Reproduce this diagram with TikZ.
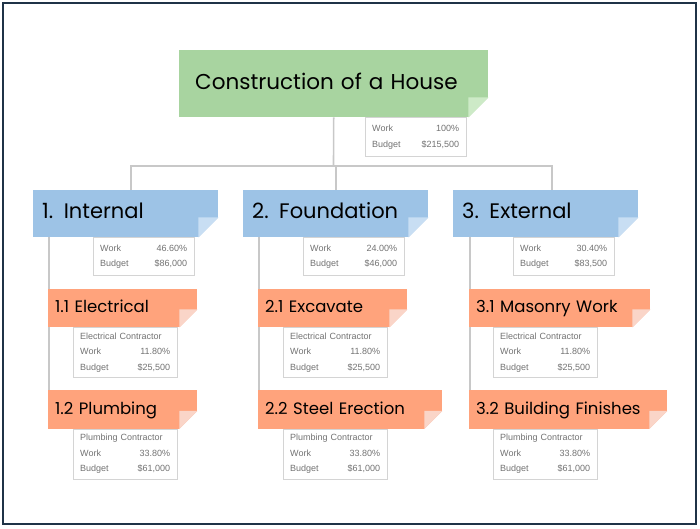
\documentclass[tikz,border=0pt]{standalone}
\usepackage{fontspec}
\usepackage{tikz}
\usetikzlibrary{backgrounds}
\usetikzlibrary{shadows}
\newfontfamily\titlefont{Poppins}
\newfontfamily\infofont{Liberation Sans}
\definecolor{rootgreen}{HTML}{A8D4A0}
\definecolor{rootfold}{HTML}{CDEAC7}
\definecolor{phaseblue}{HTML}{9DC3E6}
\definecolor{phasefold}{HTML}{C8DEF3}
\definecolor{taskorange}{HTML}{FFA37C}
\definecolor{taskfold}{HTML}{FAD5C8}
\definecolor{linkgray}{HTML}{C8C8C8}
\definecolor{infoline}{HTML}{D4D4D4}
\definecolor{infotext}{HTML}{737373}
\definecolor{frameblue}{HTML}{1F3347}

\tikzset{
    rootbox/.style={anchor=north west, fill=rootgreen, minimum height=67pt, inner xsep=16pt, inner ysep=0pt, text width=277pt, text height=13.5pt, text depth=2pt, align=left, font=\titlefont\fontsize{21.5}{26}\selectfont},
    phasebox/.style={anchor=north west, fill=phaseblue, minimum height=47pt, inner xsep=9pt, inner ysep=0pt, text width=167pt, text height=11.5pt, text depth=2pt, align=left, font=\titlefont\fontsize{21}{25}\selectfont},
    taskbox/.style={anchor=north west, fill=taskorange, minimum height=38.5pt, inner xsep=7pt, inner ysep=0pt, text width=#1, text height=11.2pt, text depth=1.5pt, align=left, font=\titlefont\fontsize{16.5}{19}\selectfont},
    infobox/.style={anchor=north west, draw=infoline, fill=white, inner xsep=7pt, inner ysep=0pt, text width=#1, align=left, text=infotext, font=\infofont\fontsize{9}{15.5}\selectfont, drop shadow={shadow xshift=0.8pt, shadow yshift=-0.8pt, opacity=0.15}},
    link/.style={draw=linkgray, line width=1.6pt}
}

\begin{document}
\begin{tikzpicture}[x=1pt, y=-1pt]
            \useasboundingbox (0,0) rectangle (700,528);
            \draw[frameblue, line width=2pt] (3,3) rectangle (696,524);

            \node[rootbox] (root) at (179,50) {Construction of a House};
            \node[infobox=87pt, minimum height=39pt] (rootinfo) at ([xshift=186pt]root.south west) {Work\hfill 100\%\\Budget\hfill \$215,500};

            % phases
            \node[phasebox] (intl) at (33,190) {1. Internal};
            \node[phasebox] (fndn) at (243,190) {2. Foundation};
            \node[phasebox] (extl) at (453,190) {3. External};
            \node[infobox=87pt, minimum height=38pt] (intlinfo) at ([xshift=60pt]intl.south west) {Work\hfill 46.60\%\\Budget\hfill \$86,000};
            \node[infobox=87pt, minimum height=38pt] (fndninfo) at ([xshift=60pt]fndn.south west) {Work\hfill 24.00\%\\Budget\hfill \$46,000};
            \node[infobox=87pt, minimum height=38pt] (extlinfo) at ([xshift=60pt]extl.south west) {Work\hfill 30.40\%\\Budget\hfill \$83,500};

            % tasks
            \node[taskbox=135pt] (elec) at (48,288.5) {1.1 Electrical};
            \node[taskbox=135pt] (plumb) at (48,390) {1.2 Plumbing};
            \node[taskbox=135pt] (excav) at (258,288.5) {2.1 Excavate};
            \node[taskbox=170pt] (steel) at (258,390) {2.2 Steel Erection};
            \node[taskbox=167pt] (mason) at (469,288.5) {3.1 Masonry Work};
            \node[taskbox=184pt] (finish) at (469,390) {3.2 Building Finishes};

            \node[infobox=90pt, minimum height=50pt] (elecinfo) at ([xshift=25pt]elec.south west) {Electrical Contractor\\Work\hfill 11.80\%\\Budget\hfill \$25,500};
            \node[infobox=90pt, minimum height=50pt] (plumbinfo) at ([xshift=25pt]plumb.south west) {Plumbing Contractor\\Work\hfill 33.80\%\\Budget\hfill \$61,000};
            \node[infobox=90pt, minimum height=50pt] (excavinfo) at ([xshift=25pt]excav.south west) {Electrical Contractor\\Work\hfill 11.80\%\\Budget\hfill \$25,500};
            \node[infobox=90pt, minimum height=50pt] (steelinfo) at ([xshift=25pt]steel.south west) {Plumbing Contractor\\Work\hfill 33.80\%\\Budget\hfill \$61,000};
            \node[infobox=90pt, minimum height=50pt] (masoninfo) at ([xshift=24pt]mason.south west) {Electrical Contractor\\Work\hfill 11.80\%\\Budget\hfill \$25,500};
            \node[infobox=90pt, minimum height=50pt] (finishinfo) at ([xshift=24pt]finish.south west) {Plumbing Contractor\\Work\hfill 33.80\%\\Budget\hfill \$61,000};

            % folded corners
            \foreach \n/\f/\c in {root/20/rootfold, intl/20/phasefold, fndn/20/phasefold, extl/20/phasefold,
                    elec/18/taskfold, plumb/18/taskfold, excav/18/taskfold, steel/18/taskfold, mason/18/taskfold, finish/18/taskfold} {
                \fill[white] (\n.south east) -- ++(-\f pt,0pt) -- ++(\f pt,\f pt) -- cycle;
                \fill[\c] ([xshift=-\f pt]\n.south east) -- ++(0pt,\f pt) -- ++(\f pt,0pt) -- cycle;
            }

            \begin{scope}[on background layer]
                \coordinate (bus) at (333.5,166);
                \draw[link] (root.south) -- (bus);
                \draw[link] ([xshift=5.5pt]intl.north) |- (bus) -| ([xshift=6.5pt]extl.north);
                \draw[link] (fndn.north) -- (fndn.north |- bus);
                \foreach \p/\c in {intl/plumb, fndn/steel, extl/finish}
                    \draw[link] ([xshift=1pt]\c.north west) -- ([xshift=1pt]\c.north west |- \p.south);
            \end{scope}
\end{tikzpicture}
\end{document}
